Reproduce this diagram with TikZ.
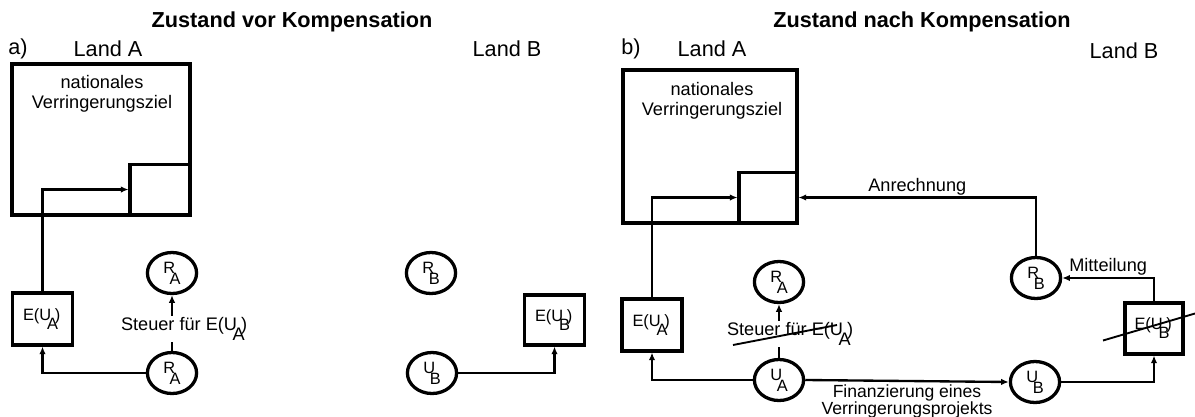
\documentclass[tikz,border=0pt]{standalone}
\usepackage{fontspec}
\setmainfont{Liberation Sans}
\usetikzlibrary{shapes.geometric,arrows.meta,calc}
\newcommand\rsub[2]{#1\kern-0.33em\raisebox{-0.68em}{#2}}
\newcommand\eus[1]{E(U\rlap{\kern-0.25em\raisebox{-0.55em}{#1}}\kern0.22em)\kern0.1em}
\begin{document}
\begin{tikzpicture}[x=0.03cm,y=-0.03cm,
  lab/.style={font=\fontsize{15.5}{17.5}\selectfont,inner sep=1pt},
  titlelab/.style={font=\fontsize{18.5}{20}\selectfont\bfseries,inner sep=0pt},
  landlab/.style={font=\fontsize{18.5}{20}\selectfont,inner sep=0pt},
  bigbox/.style={draw,line width=2.6pt,inner sep=0pt},
  ebox/.style={draw,line width=2.6pt,inner sep=0pt,font=\fontsize{14}{16}\selectfont},
  ell/.style={draw,ellipse,line width=2.8pt,inner sep=0pt,minimum width=42pt,minimum height=35pt,font=\fontsize{14}{16}\selectfont},
  conn/.style={line width=2pt,-{Latex[length=6.5pt,width=5.5pt]}},
  strike/.style={line width=1.6pt}
]
\useasboundingbox (0,0) rectangle (1195,416);
% ---------- panel a ----------
\node[titlelab] (ta) at (292,22) {Zustand vor Kompensation};
\node[landlab] (pa) at (18,49) {a)};
\node[landlab] (laa) at (108,49) {Land A};
\node[landlab] (lba) at (507,49) {Land B};
\node[bigbox,minimum width=151.9pt,minimum height=128.9pt] (goala) at (101,139.5) {};
\node[bigbox,minimum width=51.2pt,minimum height=43.5pt,anchor=south east] (sma) at (goala.south east) {};
\node[lab,align=center] (gta) at (102,94) {nationales\\Verringerungsziel};
\node[ebox,minimum width=52pt,minimum height=44.4pt] (eaa) at (42.5,319) {\eus{A}};
\node[ell] (raa1) at (172,273) {\rsub{R}{A}};
\node[ell] (raa2) at (172,373) {\rsub{R}{A}};
\node[ell] (rba) at (431,273) {\rsub{R}{B}};
\node[ell] (uba) at (432,373) {\rsub{U}{B}};
\node[ebox,minimum width=52pt,minimum height=42.7pt] (euba) at (554.5,320) {\eus{B}};
\draw[conn] (eaa.north) |- (sma.west);
\draw[conn] (raa2.west) -| (eaa.south);
\draw[conn] (raa2.north) -- (raa1.south);
\node[lab,fill=white] (sta) at (185,329) {Steuer für \eus{A}};
\draw[conn] (uba.east) -| (euba.south);
% ---------- panel b ----------
\node[titlelab] (tb) at (922,22) {Zustand nach Kompensation};
\node[landlab] (pb) at (631,49) {b)};
\node[landlab] (lab2) at (712,49) {Land A};
\node[landlab] (lbb) at (1124,51) {Land B};
\node[bigbox,minimum width=148.5pt,minimum height=130.6pt] (goalb) at (710,146.5) {};
\node[bigbox,minimum width=49.5pt,minimum height=43.5pt,anchor=south east] (smb) at (goalb.south east) {};
\node[lab,align=center] (gtb) at (712,101) {nationales\\Verringerungsziel};
\node[ebox,minimum width=51.2pt,minimum height=44.4pt] (eab) at (652,325) {\eus{A}};
\node[ell] (rab) at (779,282) {\rsub{R}{A}};
\node[ell] (uab) at (779,380) {\rsub{U}{A}};
\node[ell] (rbb) at (1036,278) {\rsub{R}{B}};
\node[ell] (ubb) at (1035,382) {\rsub{U}{B}};
\node[ebox,minimum width=49.5pt,minimum height=43.5pt] (eubb) at (1154,328.5) {\eus{B}};
\draw[conn] (eab.north) |- (smb.west);
\draw[conn] (uab.west) -| (eab.south);
\draw[conn] (uab.north) -- (rab.south);
\node[lab,fill=white] (stb) at (791,334) {Steuer für \eus{A}};
\draw[strike] ($(stb.center)+(-58,11)$) -- ($(stb.center)+(46,-9)$);
\draw[conn] (uab.east) -- (ubb.west)
  node[midway,below=1.5pt,lab,align=center,font=\fontsize{15}{14}\selectfont] {Finanzierung eines\\Verringerungsprojekts};
\draw[conn] (ubb.east) -| (eubb.south);
\draw[conn] (eubb.north) |- (rbb.east) node[pos=0.75,above,lab] {Mitteilung};
\draw[conn] (rbb.north) |- (smb.east) node[pos=0.75,above,lab] {Anrechnung};
\draw[strike] ($(eubb.center)+(-51,12)$) -- ($(eubb.center)+(41,-15)$);
\end{tikzpicture}
\end{document}
